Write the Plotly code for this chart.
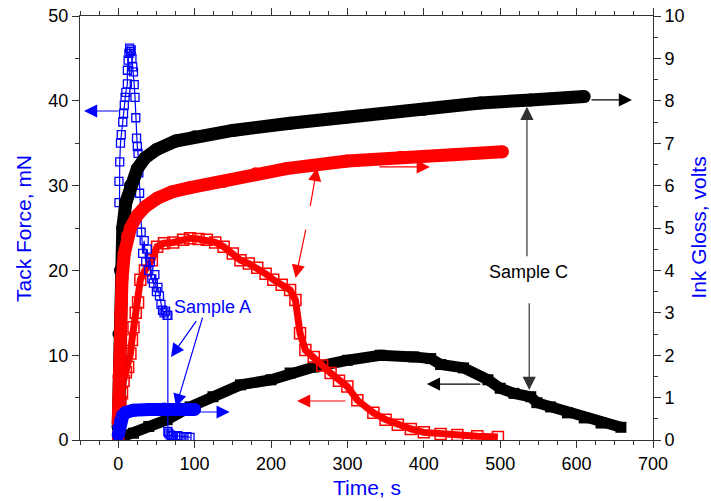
import plotly.graph_objects as go

# ---------------- data ----------------
# Sample A (blue)
a_tack_t = [0, 1, 1, 2, 3, 4, 6, 7, 8, 9, 10, 12, 12, 13, 14, 15, 16, 17, 18, 19,
            20, 21, 22, 23, 24, 25, 26, 27, 28, 30, 32, 34, 36, 38, 40, 42, 44, 46,
            48, 50, 52, 54, 56, 58, 60, 62, 64, 65, 65, 66, 68, 70, 72, 75, 78, 82,
            86, 90, 94]
a_tack = [0.5, 28, 30.5, 32.8, 35, 36, 37.5, 38.5, 39.5, 40.4, 41, 42, 43.6, 44.8,
          45.6, 46.2, 45.8, 46, 45, 44, 43.4, 41.9, 40.4, 38, 35.6, 34.6, 33.8, 31.5,
          29.1, 24.5, 22, 23.5, 21, 22.5, 20, 21, 19, 18.5, 19.5, 17.5, 18, 17, 16,
          15.3, 15, 15.2, 14.7, 14.7, 1, 0.8, 0.6, 0.5, 0.5, 0.4, 0.5, 0.4, 0.4, 0.4,
          0.3]
a_gloss_t = [0, 1, 3, 6, 10, 20, 40, 60, 80, 100]
a_gloss = [0.12, 0.3, 0.45, 0.58, 0.65, 0.7, 0.72, 0.73, 0.73, 0.72]

# Sample B (red)
b_tack_t = [0, 1, 2, 3, 5, 7, 10, 13, 16, 18, 20, 23, 26, 29, 35, 44, 51, 60, 72,
            85, 94, 105, 116, 127, 138, 150, 160, 171, 182, 193, 203, 214, 225, 232,
            238, 245, 256, 267, 278, 289, 300, 313, 334, 350, 366, 383, 400, 422,
            444, 470, 497]
b_tack = [0.3, 2, 3.5, 4.5, 5.5, 7, 8, 8.6, 10.2, 11.8, 13.3, 15, 16.2, 18.9, 20,
          21.2, 22.8, 23.2, 23.3, 23.6, 23.8, 23.7, 23.6, 23.3, 22.8, 22, 21.2, 20.8,
          20.3, 19.6, 18.9, 18.3, 17.7, 16.5, 12.6, 10.6, 9.8, 8.8, 7.9, 7, 6.3, 4.7,
          3.2, 2.4, 1.8, 1.3, 0.9, 0.7, 0.6, 0.45, 0.35]
b_gloss_t = [0, 1, 3, 5, 8, 12, 16, 25, 35, 51, 70, 94, 138, 180, 220, 300, 370,
             440, 503]
b_gloss = [0.4, 1.5, 3.0, 3.8, 4.4, 4.8, 5.0, 5.3, 5.5, 5.7, 5.85, 5.95, 6.1, 6.28,
           6.4, 6.58, 6.67, 6.73, 6.8]

# Sample C (black)
c_tack_t = [0, 20, 40, 64, 94, 124, 160, 200, 225, 256, 300, 343, 387, 409, 422,
            452, 484, 500, 518, 540, 548, 566, 588, 610, 632, 658]
c_tack = [0.2, 0.8, 1.6, 2.4, 3.9, 5.1, 6.5, 7.1, 7.9, 8.6, 9.4, 10, 9.8, 9.6, 8.9,
          8.5, 7.1, 6.1, 5.5, 5.1, 4.4, 3.9, 3.2, 2.6, 2.0, 1.5]
c_gloss_t = [0, 1, 3, 6, 10, 16, 25, 35, 50, 75, 100, 150, 225, 300, 400, 474, 540,
             610]
c_gloss = [0.3, 2.5, 4.0, 5.0, 5.6, 6.0, 6.4, 6.65, 6.85, 7.05, 7.15, 7.3, 7.47,
           7.62, 7.8, 7.95, 8.02, 8.1]

x_ticks = [0, 100, 200, 300, 400, 500, 600, 700]
y_ticks = [0, 10, 20, 30, 40, 50]
y2_ticks = list(range(0, 11))

BLUE = "#0000FF"
RED = "#FF0000"
BLACK = "#000000"
FONT = "Arial, Liberation Sans, sans-serif"

fig = go.Figure()


def gloss(t, v, c):
    fig.add_trace(go.Scatter(x=t, y=v, yaxis="y2", mode="lines+markers",
                             line=dict(color=c, width=13),
                             marker=dict(color=c, size=13, symbol="circle"),
                             showlegend=False, hoverinfo="skip"))


gloss(c_gloss_t, c_gloss, BLACK)
fig.add_trace(go.Scatter(x=c_tack_t, y=c_tack, mode="lines+markers",
                         line=dict(color=BLACK, width=11),
                         marker=dict(color=BLACK, size=11, symbol="square"),
                         showlegend=False, hoverinfo="skip"))
gloss(b_gloss_t, b_gloss, RED)
fig.add_trace(go.Scatter(x=b_tack_t, y=b_tack, mode="lines+markers",
                         line=dict(color=RED, width=7),
                         marker=dict(color=RED, size=11, symbol="square-open",
                                     line=dict(width=1.5, color=RED)),
                         showlegend=False, hoverinfo="skip"))
gloss(a_gloss_t, a_gloss, BLUE)
fig.add_trace(go.Scatter(x=a_tack_t, y=a_tack, mode="lines+markers",
                         line=dict(color=BLUE, width=1.2),
                         marker=dict(color=BLUE, size=8, symbol="square-open",
                                     line=dict(width=1.3, color=BLUE)),
                         showlegend=False, hoverinfo="skip"))

# ---------------- annotations ----------------
def arrow(x0, y0, x1, y1, c, w=1.2):
    fig.add_annotation(x=x1, y=y1, ax=x0, ay=y0, xref="x", yref="y",
                       axref="x", ayref="y", showarrow=True, arrowhead=2,
                       arrowsize=2.2, arrowwidth=w, arrowcolor=c, text="",
                       standoff=0, startstandoff=0)


arrow(2.4, 38.8, -44.8, 38.8, BLUE)
arrow(103, 3.3, 146, 3.3, BLUE)
arrow(103.5, 14.2, 69.1, 9.8, BLUE)
arrow(111, 14.6, 75.7, 3.9, BLUE)
arrow(340, 32.2, 408, 32.2, RED)
arrow(299.4, 4.6, 234, 4.6, RED)
arrow(251, 27.4, 260.2, 32.1, RED)
arrow(246, 25.0, 232.2, 19.1, RED)
arrow(617.5, 40.1, 672.5, 40.1, BLACK)
arrow(476, 6.6, 404, 6.6, BLACK)
arrow(535, 21.5, 535, 39.3, "#333333")
arrow(538, 16.3, 538, 5.9, "#333333")

fig.add_annotation(x=123, y=15.7, xref="x", yref="y", text="Sample A",
                   showarrow=False, font=dict(family=FONT, size=18, color=BLUE))
fig.add_annotation(x=536.6, y=19.8, xref="x", yref="y", text="Sample C",
                   showarrow=False, font=dict(family=FONT, size=18, color=BLACK))

# axis titles (placed as paper annotations)
title_font = dict(family=FONT, size=21, color=BLUE)
fig.add_annotation(x=0.5, y=-0.111, xref="paper", yref="paper", text="Time, s",
                   showarrow=False, font=title_font, xanchor="center", yanchor="middle")
fig.add_annotation(x=-0.0995, y=0.5, xref="paper", yref="paper", text="Tack Force, mN",
                   showarrow=False, font=title_font, textangle=-90,
                   xanchor="center", yanchor="middle")
fig.add_annotation(x=1.078, y=0.5, xref="paper", yref="paper", text="Ink Gloss, volts",
                   showarrow=False, font=title_font, textangle=-90,
                   xanchor="center", yanchor="middle")

axis_common = dict(showgrid=False, zeroline=False, showline=True, linecolor="#333333",
                   linewidth=1, ticks="outside", ticklen=7, tickwidth=1, automargin=False,
                   tickcolor="#333333", tickfont=dict(family=FONT, size=18, color=BLACK))

fig.update_layout(
    width=711, height=501,
    margin=dict(l=80, r=58, t=16, b=61, autoexpand=False),
    paper_bgcolor="white", plot_bgcolor="white",
    font=dict(family=FONT),
    xaxis=dict(range=[-50, 700], tickvals=x_ticks, mirror="ticks",
               minor=dict(dtick=25, tick0=0, ticklen=4, ticks="outside",
                          tickcolor="#333333"),
               **axis_common),
    yaxis=dict(range=[0, 50], tickvals=y_ticks,
               minor=dict(dtick=5, tick0=0, ticklen=4, ticks="outside",
                          tickcolor="#333333"),
               **axis_common),
    yaxis2=dict(range=[0, 10], tickvals=y2_ticks, overlaying="y", side="right",
                minor=dict(dtick=0.5, tick0=0, ticklen=4, ticks="outside",
                           tickcolor="#333333"),
                **axis_common),
    showlegend=False,
)

fig.write_html("out.html", config={"displayModeBar": False},
               post_script="document.body.style.margin='0px';"
                           "document.body.style.overflow='hidden';")
